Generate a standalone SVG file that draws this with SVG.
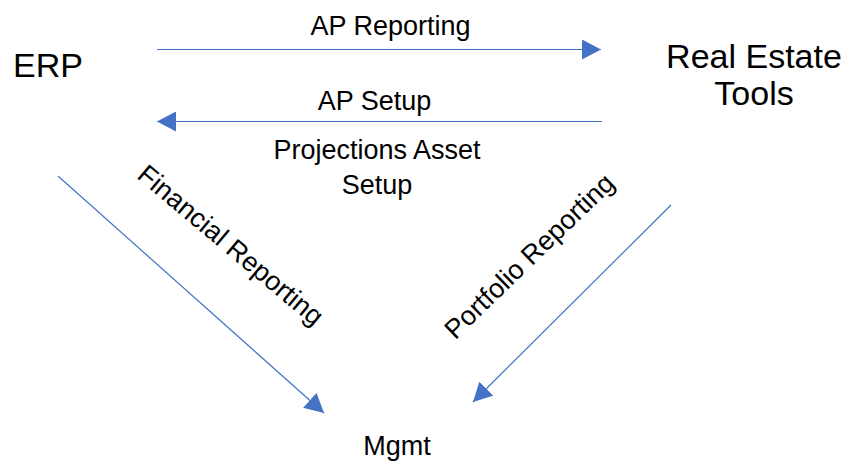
<svg xmlns="http://www.w3.org/2000/svg" width="848" height="466" viewBox="0 0 848 466">
<defs>
<style>
text{font-family:"Liberation Sans",Arial,sans-serif;fill:#000}
.big{font-size:34px}
.lbl{font-size:27px}
.conn{stroke:#4472C4;stroke-width:1.2;fill:none}
</style>
<marker id="ah" markerUnits="userSpaceOnUse" markerWidth="20" markerHeight="20" viewBox="0 0 20 20" refX="19" refY="10" orient="auto">
<path d="M0,0 L19,10 L0,20 Z" fill="#4472C4"/>
</marker>
</defs>
<rect width="848" height="466" fill="#fff"/>
<g id="erp"><text class="big" x="13" y="77">ERP</text></g>
<g id="ret"><text class="big" text-anchor="middle" x="754" y="68">Real Estate</text><text class="big" text-anchor="middle" x="754" y="105">Tools</text></g>
<g id="mgmt"><text class="lbl" text-anchor="middle" x="397" y="455">Mgmt</text></g>
<g id="connectors">
<line class="conn" x1="157" y1="49.5" x2="601" y2="49.5" marker-end="url(#ah)"/>
<line class="conn" x1="602" y1="121.5" x2="157" y2="121.5" marker-end="url(#ah)"/>
<line class="conn" x1="58" y1="176" x2="324" y2="413" marker-end="url(#ah)"/>
<line class="conn" x1="671" y1="205" x2="473" y2="402" marker-end="url(#ah)"/>
</g>
<g id="labels">
<text class="lbl" text-anchor="middle" x="390.5" y="35">AP Reporting</text>
<text class="lbl" text-anchor="middle" x="374.5" y="110">AP Setup</text>
<text class="lbl" text-anchor="middle" x="377" y="159">Projections Asset</text>
<text class="lbl" text-anchor="middle" x="377" y="194">Setup</text>
<text class="lbl" text-anchor="middle" transform="translate(230,246) rotate(40)" x="0" y="8">Financial Reporting</text>
<text class="lbl" text-anchor="middle" transform="translate(530,257) rotate(-44)" x="0" y="8">Portfolio Reporting</text>
</g>
</svg>
